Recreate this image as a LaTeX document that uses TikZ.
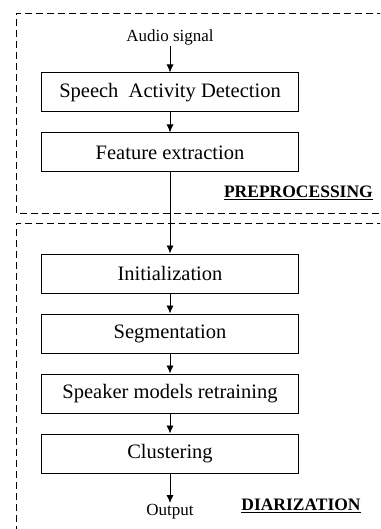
\documentclass[tikz,border=0pt]{standalone}
\usepackage{fontspec}
\setmainfont{Liberation Serif}
\usetikzlibrary{arrows.meta}

\begin{document}
\begin{tikzpicture}[x=1pt, y=-1pt,
		block/.style={draw, line width=1pt, minimum width=257pt, minimum height=39pt, inner sep=0pt, font=\fontsize{20.5}{24}\selectfont},
		lbl/.style={inner sep=1pt, font=\fontsize{17}{20}\selectfont},
		tag/.style={inner sep=1pt, font=\fontsize{17.5}{21}\selectfont\bfseries},
		flow/.style={-{Latex[length=8pt, width=7pt]}, line width=0.9pt},
		group/.style={dash pattern=on 7pt off 4pt, line width=0.9pt}]
			\clip (0,0) rectangle (380,529);
			\fill[white] (0,0) rectangle (380,529);

			% dashed frames, open on the right
			\draw[group] (395,13) -- (16,13) -- (16,213) -- (395,213);
			\draw[group] (395,223) -- (16,223) -- (16,545);

			\node[lbl, anchor=south] (audio) at (170,46) {Audio signal};
			\node[block] (sad) at (170,92.5) {Speech\ \ Activity Detection};
			\node[block] (feat) at (170,152.5) {Feature extraction};
			\node[block] (init) at (170,273.5) {Initialization};
			\node[block] (seg) at (170,333.5) {Segmentation};
			\node[block] (retrain) at (170,393.5) {Speaker models retraining};
			\node[block] (clust) at (170,453.5) {Clustering};
			\node[lbl, anchor=north] (output) at (170,503) {Output};

			\node[tag, anchor=east] (prep) at (374,193) {\underline{PREPROCESSING}};
			\node[tag] (diar) at (301,506) {\underline{DIARIZATION}};

			\draw[flow] (audio) -- (sad);
			\draw[flow] (sad) -- (feat);
			\draw[flow] (feat) -- (init);
			\draw[flow] (init) -- (seg);
			\draw[flow] (seg) -- (retrain);
			\draw[flow] (retrain) -- (clust);
			\draw[flow] (clust) -- (output);
		\end{tikzpicture}
\end{document}
